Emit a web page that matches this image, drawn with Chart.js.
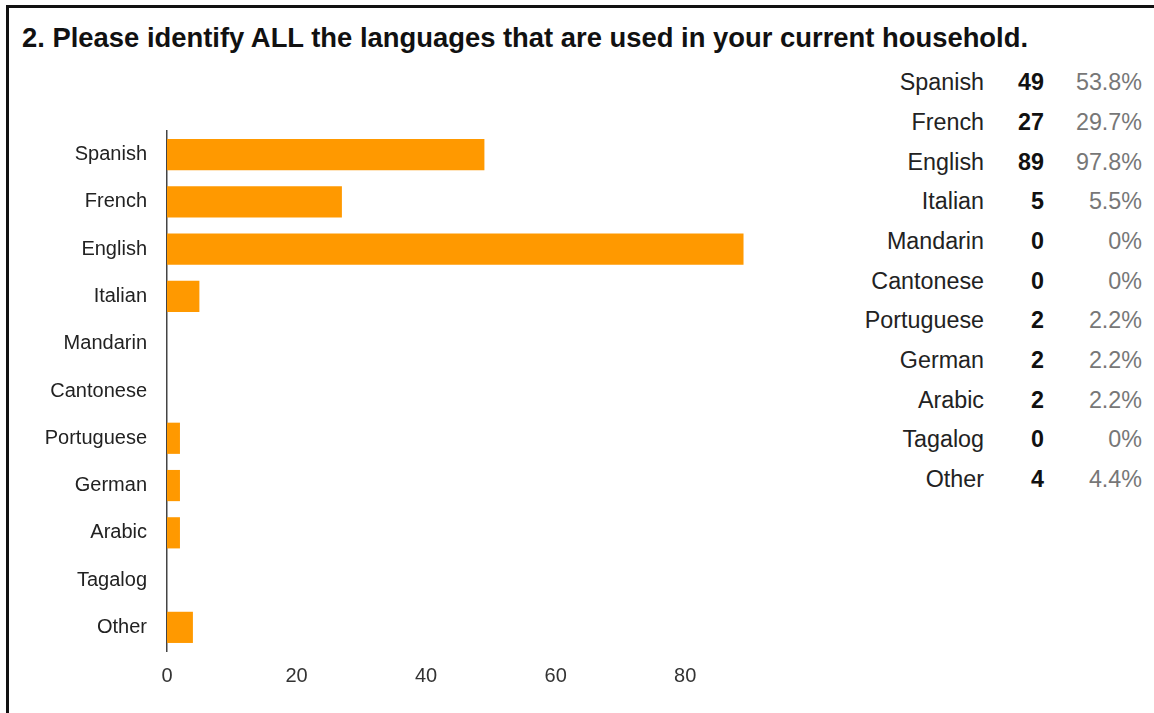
<!DOCTYPE html>
<html>
<head>
<meta charset="utf-8">
<script src="https://cdn.jsdelivr.net/npm/chart.js@4/dist/chart.umd.min.js"></script>
<style>
  html, body { margin: 0; padding: 0; background: #fff; }
  body { width: 1154px; height: 713px; overflow: hidden; position: relative; font-family: "Liberation Sans", Arial, sans-serif; }
  .frame { position: absolute; left: 6px; top: 5px; width: 1200px; height: 760px; border: 3px solid #111; box-sizing: border-box; }
  h2 { position: absolute; left: 22px; top: 22px; margin: 0; font-size: 27.4px; font-weight: bold; color: #111; white-space: nowrap; }
  .chart-box { position: absolute; left: 0; top: 0; width: 760px; height: 713px; }
  table { position: absolute; left: 830px; top: 63px; border-collapse: collapse; font-size: 23.3px; }
  td { height: 39.7px; padding: 0; text-align: right; line-height: 1; }
  td.lang { color: #222; width: 154px; }
  td.num { color: #111; font-weight: bold; width: 60px; }
  td.pct { color: #777; width: 98px; }
</style>
</head>
<body>
<div class="frame"></div>
<h2>2. Please identify ALL the languages that are used in your current household.</h2>
<div class="chart-box"><canvas id="grafikBahasa"></canvas></div>
<table id="tabel"></table>
<script>
// ===========================
// DATA
// ===========================
const bahasa = ["Spanish", "French", "English", "Italian", "Mandarin", "Cantonese", "Portuguese", "German", "Arabic", "Tagalog", "Other"];
const jumlah = [49, 27, 89, 5, 0, 0, 2, 2, 2, 0, 4];
const persen = ["53.8%", "29.7%", "97.8%", "5.5%", "0%", "0%", "2.2%", "2.2%", "2.2%", "0%", "4.4%"];
const tickLabels = [0, 20, 40, 60, 80];

// === TABEL KANAN ===
const tabel = document.getElementById("tabel");
bahasa.forEach(function (b, i) {
  const tr = document.createElement("tr");
  tr.innerHTML = '<td class="lang">' + b + '</td><td class="num">' + jumlah[i] + '</td><td class="pct">' + persen[i] + '</td>';
  tabel.appendChild(tr);
});

// ===========================
// GRAFIK BATANG
// ===========================
const fontLabel = { family: "'Liberation Sans', Arial, sans-serif", size: 20 };

new Chart(document.getElementById("grafikBahasa"), {
  type: "bar",
  data: {
    labels: bahasa,
    datasets: [{
      label: "Responden",
      data: jumlah,
      backgroundColor: "#ff9900",
      barPercentage: 0.66,
      categoryPercentage: 1
    }]
  },
  options: {
    indexAxis: "y",
    responsive: true,
    maintainAspectRatio: false,
    animation: false,
    layout: { padding: { top: 131, right: 10, bottom: 0, left: 0 } },
    plugins: { legend: { display: false }, tooltip: { enabled: false } },
    scales: {
      x: {
        min: 0,
        max: 90,
        grid: { display: false, drawTicks: false },
        border: { display: false },
        ticks: { stepSize: 20, padding: 13, color: "#333", font: fontLabel },
        afterBuildTicks: function (scale) {
          scale.ticks = tickLabels.map(function (v) { return { value: v }; });
        },
        afterFit: function (scale) { scale.height = 62; }
      },
      y: {
        grid: { display: false, drawTicks: false },
        border: { display: true, color: "#444", width: 1.5 },
        ticks: { padding: 20, color: "#222", font: fontLabel },
        afterFit: function (scale) { scale.width = 167; }
      }
    }
  }
});
</script>
</body>
</html>
